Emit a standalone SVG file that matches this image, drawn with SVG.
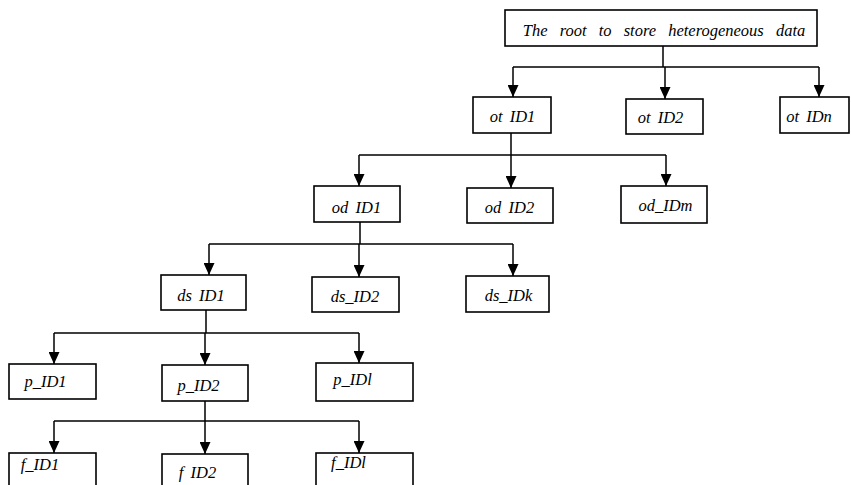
<svg xmlns="http://www.w3.org/2000/svg" width="851" height="485" viewBox="0 0 851 485" font-family="Times New Roman, Liberation Serif, serif">
<style>
.box{fill:#fff;stroke:#000;stroke-width:1.6}
.lbl{font-style:italic;font-size:16.5px;fill:#000;text-anchor:middle;word-spacing:3px}
.ln{fill:none;stroke:#000;stroke-width:1.5}
.arr{fill:none;stroke:#000;stroke-width:1.5;marker-end:url(#ah)}
</style>
<defs>
<marker id="ah" markerUnits="userSpaceOnUse" markerWidth="12" markerHeight="11" refX="12" refY="5.5" orient="auto" viewBox="0 0 12 11">
<path d="M0,0 L12,5.5 L0,11 Z" fill="#000"/>
</marker>
</defs>
<rect width="851" height="485" fill="#fff"/>
<g id="connectors">
<path class="ln" d="M663,46 V67 M513,67 H819 M511,133 V155 M359,155 H666 M360,222 V244 M209,244 H513 M206,310 V333 M54,333 H359 M205,401 V421 M54,421 H359"/>
<path class="arr" d="M513,67 V97"/>
<path class="arr" d="M665,67 V99"/>
<path class="arr" d="M819,67 V97"/>
<path class="arr" d="M359,155 V186"/>
<path class="arr" d="M511,155 V188"/>
<path class="arr" d="M666,155 V186"/>
<path class="arr" d="M209,244 V275"/>
<path class="arr" d="M359,244 V277"/>
<path class="arr" d="M513,244 V276"/>
<path class="arr" d="M54,333 V364"/>
<path class="arr" d="M205,333 V365"/>
<path class="arr" d="M359,333 V363"/>
<path class="arr" d="M54,421 V453"/>
<path class="arr" d="M205,421 V454"/>
<path class="arr" d="M359,421 V453"/>
</g>
<g id="root"><rect class="box" x="505" y="10" width="312" height="36"/><text class="lbl" x="664" y="36" style="word-spacing:8px">The root to store heterogeneous data</text></g>
<g id="ot1"><rect class="box" x="473" y="97" width="78" height="36"/><text class="lbl" x="512.5" y="122">ot ID1</text></g>
<g id="ot2"><rect class="box" x="626" y="99" width="77" height="35"/><text class="lbl" x="660.5" y="123">ot ID2</text></g>
<g id="otn"><rect class="box" x="780" y="97" width="69" height="36"/><text class="lbl" x="809" y="122">ot IDn</text></g>
<g id="od1"><rect class="box" x="314" y="186" width="86" height="36"/><text class="lbl" x="356.5" y="213">od ID1</text></g>
<g id="od2"><rect class="box" x="467" y="188" width="86" height="35"/><text class="lbl" x="509.5" y="213">od ID2</text></g>
<g id="odm"><rect class="box" x="621" y="186" width="86" height="37"/><text class="lbl" x="665.5" y="211">od_IDm</text></g>
<g id="ds1"><rect class="box" x="161" y="275" width="85" height="35"/><text class="lbl" x="201" y="301">ds ID1</text></g>
<g id="ds2"><rect class="box" x="312" y="277" width="87" height="35"/><text class="lbl" x="355" y="302">ds_ID2</text></g>
<g id="dsk"><rect class="box" x="466" y="276" width="83" height="36"/><text class="lbl" x="508.5" y="301">ds_IDk</text></g>
<g id="p1"><rect class="box" x="9" y="364" width="87" height="35"/><text class="lbl" x="45.5" y="387">p_ID1</text></g>
<g id="p2"><rect class="box" x="162" y="365" width="86" height="36"/><text class="lbl" x="198.5" y="391">p_ID2</text></g>
<g id="pl"><rect class="box" x="316" y="363" width="97" height="38"/><text class="lbl" x="352.5" y="385">p_IDl</text></g>
<g id="f1"><rect class="box" x="9" y="453" width="87" height="40"/><text class="lbl" x="40" y="470">f_ID1</text></g>
<g id="f2"><rect class="box" x="162" y="454" width="86" height="40"/><text class="lbl" x="197.5" y="478">f ID2</text></g>
<g id="fl"><rect class="box" x="316" y="453" width="97" height="40"/><text class="lbl" x="348.5" y="468">f_IDl</text></g>
</svg>
